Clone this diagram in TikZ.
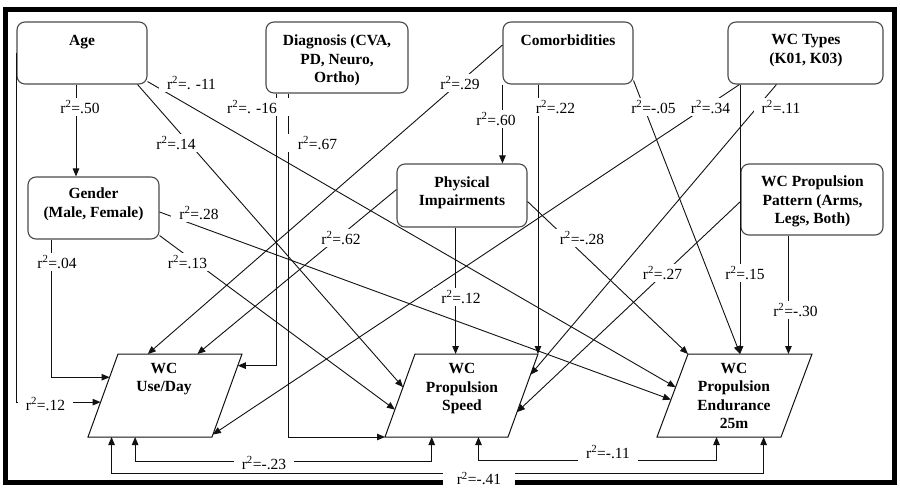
\documentclass[tikz,border=0pt]{standalone}
\usepackage{fontspec}
\setmainfont{Liberation Serif}
\usetikzlibrary{arrows.meta,calc}
\definecolor{rim}{HTML}{4A4A4A}
\definecolor{ink}{HTML}{111111}

\begin{document}
\begin{tikzpicture}[x=1pt,y=-1pt,
		box/.style={draw=rim,line width=1.1pt,rounded corners=8pt},
		outbox/.style={draw=ink,line width=1pt},
		boxtext/.style={anchor=north,align=center,inner sep=0pt,font=\fontsize{15.5}{18.5}\selectfont\bfseries},
		lbl/.style={fill=white,inner xsep=8pt,inner ysep=3pt,font=\fontsize{15.5}{18.5}\selectfont},
		link/.style={draw=ink,line width=0.9pt,-{Triangle[length=8pt,width=6.5pt]}},
		twin/.style={draw=ink,line width=0.9pt,{Triangle[length=8pt,width=6.5pt]}-{Triangle[length=8pt,width=6.5pt]}}]
	\useasboundingbox (0,0) rectangle (900,490);
	\draw[line width=5pt] (5,9.5) rectangle (894.5,482.5);

	% predictors
	\node[box,minimum width=130pt,minimum height=62pt] (age) at (82,53) {};
	\node[box,minimum width=142pt,minimum height=71pt] (diag) at (337,57.5) {};
	\node[box,minimum width=130pt,minimum height=62pt] (comor) at (568,53) {};
	\node[box,minimum width=155pt,minimum height=62pt] (types) at (805.5,53) {};
	\node[box,minimum width=131pt,minimum height=62pt] (gender) at (93.5,208) {};
	\node[box,minimum width=130pt,minimum height=63pt] (phys) at (462,195.5) {};
	\node[box,minimum width=142pt,minimum height=71pt] (pattern) at (812,199.5) {};

	% outcomes
	\coordinate (use-bl) at (88,437);   \coordinate (use-tl) at (118,354);
	\coordinate (use-tr) at (242,354);  \coordinate (use-br) at (212,437);
	\coordinate (sp-bl) at (385,437);   \coordinate (sp-tl) at (415,354);
	\coordinate (sp-tr) at (538,354);   \coordinate (sp-br) at (508,437);
	\coordinate (en-bl) at (657,437);   \coordinate (en-tl) at (688,354);
	\coordinate (en-tr) at (812,354);   \coordinate (en-br) at (781,437);
	\draw[outbox] (use-bl) -- (use-tl) -- (use-tr) -- (use-br) -- cycle;
	\draw[outbox] (sp-bl) -- (sp-tl) -- (sp-tr) -- (sp-br) -- cycle;
	\draw[outbox] (en-bl) -- (en-tl) -- (en-tr) -- (en-br) -- cycle;

	\node[boxtext] (age-t) at (82,34.7) {Age};
	\node[boxtext] (diag-t) at (337,34.7) {Diagnosis (CVA,\\PD, Neuro,\\Ortho)};
	\node[boxtext] (comor-t) at (568,34.7) {Comorbidities};
	\node[boxtext] (types-t) at (806,34.2) {WC Types\\(K01, K03)};
	\node[boxtext] (gender-t) at (93.5,187.7) {Gender\\(Male, Female)};
	\node[boxtext] (phys-t) at (462,176.2) {Physical\\Impairments};
	\node[boxtext] (pattern-t) at (812.5,175.7) {WC Propulsion\\Pattern (Arms,\\Legs, Both)};
	\node[boxtext] (use-t) at (164,362.7) {WC\\Use/Day};
	\node[boxtext] (speed-t) at (462,363.5) {WC\\Propulsion\\Speed};
	\node[boxtext] (endu-t) at (734,362.7) {WC\\Propulsion\\Endurance\\25m};

	% arrow ends on the outcome sides
	\coordinate (use-l1) at ($(use-bl)!.42!(use-tl)$);
	\coordinate (use-l2) at ($(use-bl)!.72!(use-tl)$);
	\coordinate (use-r1) at ($(use-br)!.86!(use-tr)$);
	\coordinate (use-r2) at ($(use-br)!.03!(use-tr)$);
	\coordinate (use-t1) at ($(use-tl)!.24!(use-tr)$);
	\coordinate (use-t2) at ($(use-tl)!.64!(use-tr)$);
	\coordinate (use-b1) at ($(use-bl)!.19!(use-br)$);
	\coordinate (use-b2) at ($(use-bl)!.38!(use-br)$);
	\coordinate (sp-l1) at ($(sp-bl)!.6!(sp-tl)$);
	\coordinate (sp-l2) at ($(sp-bl)!.33!(sp-tl)$);
	\coordinate (sp-t1) at ($(sp-tl)!.33!(sp-tr)$);
	\coordinate (sp-r1) at ($(sp-br)!.75!(sp-tr)$);
	\coordinate (sp-r2) at ($(sp-br)!.3!(sp-tr)$);
	\coordinate (sp-b1) at ($(sp-bl)!.38!(sp-br)$);
	\coordinate (sp-b2) at ($(sp-bl)!.76!(sp-br)$);
	\coordinate (en-l1) at ($(en-bl)!.6!(en-tl)$);
	\coordinate (en-l2) at ($(en-bl)!.45!(en-tl)$);
	\coordinate (en-t1) at ($(en-tl)!.42!(en-tr)$);
	\coordinate (en-t2) at ($(en-tl)!.81!(en-tr)$);
	\coordinate (en-b1) at ($(en-bl)!.48!(en-br)$);
	\coordinate (en-b2) at ($(en-bl)!.86!(en-br)$);

	% paths
	\draw[link] ([xshift=-6pt]age.south) -- ([xshift=-6pt]age.south |- gender.north);
	\draw[link] (age.west) |- (use-l1);
	\draw[link] ([xshift=-10pt]age.south east) -- (sp-l1);
	\draw[link] ([yshift=3pt]age.south east) -- (en-l1);
	\draw[link] ([xshift=24pt]gender.south west) |- (use-l2);
	\draw[link] ([yshift=4pt]gender.south east) -- (sp-l2);
	\draw[link] ([yshift=-4pt]gender.east) -- (en-l2);
	\draw[link] ([xshift=11pt]diag.south west) |- (use-r1);
	\draw[link] ([xshift=23pt]diag.south west) |- (sp-bl);
	\draw[link] (comor.south west) -- (comor.south west |- phys.north);
	\draw[link] ([yshift=8pt]comor.west) -- (use-t1);
	\draw[link] (sp-tr |- comor.south) -- (sp-tr);
	\draw[link] ([yshift=4pt]comor.south east) -- (en-t1);
	\draw[link] ([xshift=12pt]types.south west) -- (use-r2);
	\draw[link] ([xshift=49pt]types.south west) -- (sp-r1);
	\draw[link] (en-t1 |- types.south) -- (en-t1);
	\draw[link] ([yshift=6pt]phys.west) -- (use-t2);
	\draw[link] (sp-t1 |- phys.south) -- (sp-t1);
	\draw[link] ([yshift=-6pt]phys.east) -- (en-tl);
	\draw[link] ([yshift=-2pt]pattern.west) -- (sp-r2);
	\draw[link] (en-t2 |- pattern.south) -- (en-t2);
	\draw[twin] (use-b2) -- ++(0,24) -| (sp-b1);
	\draw[twin] (sp-b2) -- ++(0,23) -| (en-b1);
	\draw[twin] (use-b1) -- ++(0,36) -| (en-b2);

	% coefficients
	\node[lbl] (r-age-gen) at (80,107) {r\textsuperscript{2}=.50};
	\node[lbl] (r-age-use) at (45.5,404) {r\textsuperscript{2}=.12};
	\node[lbl] (r-age-sp) at (176,143) {r\textsuperscript{2}=.14};
	\node[lbl] (r-age-en) at (191.5,83) {r\textsuperscript{2}=. -11};
	\node[lbl,minimum width=76pt] (r-diag-use) at (252,107) {r\textsuperscript{2}=. -16};
	\node[lbl,minimum width=60pt] (r-diag-sp) at (317.5,143) {r\textsuperscript{2}=.67};
	\node[lbl] (r-gen-use) at (57,262) {r\textsuperscript{2}=.04};
	\node[lbl] (r-gen-sp) at (187.5,262) {r\textsuperscript{2}=.13};
	\node[lbl] (r-gen-en) at (199,213) {r\textsuperscript{2}=.28};
	\node[lbl] (r-com-use) at (460,83) {r\textsuperscript{2}=.29};
	\node[lbl] (r-com-phy) at (496,119) {r\textsuperscript{2}=.60};
	\node[lbl] (r-com-sp) at (555.5,107) {r\textsuperscript{2}=.22};
	\node[lbl] (r-com-en) at (653.5,107) {r\textsuperscript{2}=-.05};
	\node[lbl] (r-typ-use) at (710.5,107) {r\textsuperscript{2}=.34};
	\node[lbl] (r-typ-sp) at (781,107) {r\textsuperscript{2}=.11};
	\node[lbl] (r-typ-en) at (745,273) {r\textsuperscript{2}=.15};
	\node[lbl] (r-phy-use) at (341,238) {r\textsuperscript{2}=.62};
	\node[lbl] (r-phy-sp) at (461,297) {r\textsuperscript{2}=.12};
	\node[lbl] (r-phy-en) at (582,238) {r\textsuperscript{2}=-.28};
	\node[lbl] (r-pat-sp) at (662.5,273) {r\textsuperscript{2}=.27};
	\node[lbl] (r-pat-en) at (795.5,310) {r\textsuperscript{2}=-.30};
	\node[lbl] (r-use-sp) at (264,463) {r\textsuperscript{2}=-.23};
	\node[lbl] (r-sp-en) at (608,452) {r\textsuperscript{2}=-.11};
	\node[lbl,minimum width=72pt,minimum height=17pt] (r-use-en) at (479,478.5) {r\textsuperscript{2}=-.41};
\end{tikzpicture}
\end{document}
